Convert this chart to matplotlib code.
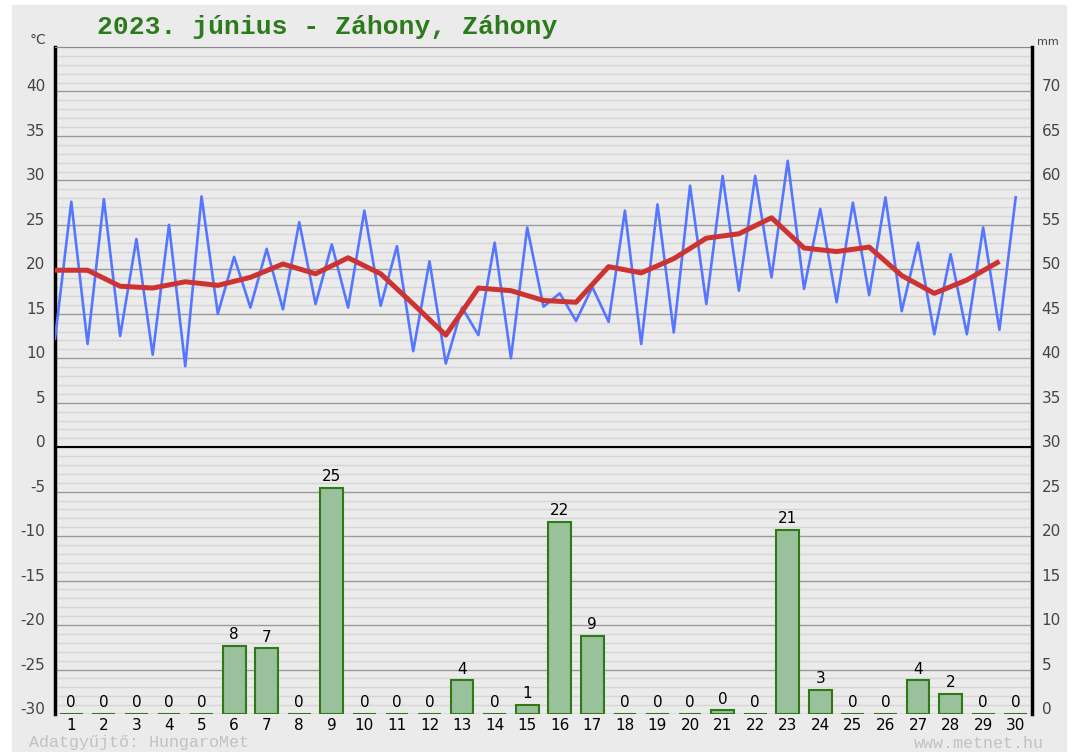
import matplotlib
matplotlib.use('Agg')
import matplotlib.pyplot as plt
from matplotlib.patches import Rectangle

plt.rcParams['axes.unicode_minus'] = False

days = list(range(1, 31))
# daily minimum / maximum / mean temperature (°C)
tmin = [12.2, 11.6, 12.5, 10.4, 9.1, 15.0, 15.7, 15.5, 16.1, 15.7,
        15.9, 10.8, 9.4, 12.6, 10.0, 15.8, 14.2, 14.1, 11.6, 12.9,
        16.1, 17.6, 19.1, 17.8, 16.3, 17.1, 15.3, 12.7, 12.7, 13.2]
tmax = [27.6, 27.9, 23.4, 25.0, 28.2, 21.4, 22.3, 25.3, 22.8, 26.6,
        22.6, 20.9, 15.7, 23.0, 24.7, 17.3, 18.0, 26.6, 27.3, 29.4,
        30.5, 30.5, 32.2, 26.8, 27.5, 28.1, 23.0, 21.7, 24.7, 28.1]
tavg = [19.9, 19.9, 18.1, 17.9, 18.6, 18.2, 19.1, 20.6, 19.5, 21.3,
        19.5, 16.1, 12.6, 17.9, 17.6, 16.5, 16.3, 20.3, 19.6, 21.2,
        23.5, 24.0, 25.8, 22.4, 22.0, 22.5, 19.3, 17.3, 18.8, 20.9]
# daily precipitation (mm)
precip = [0, 0, 0, 0, 0, 7.7, 7.4, 0, 25.4, 0,
          0, 0, 3.8, 0, 1.0, 21.6, 8.8, 0, 0, 0,
          0.4, 0, 20.7, 2.7, 0, 0, 3.8, 2.3, 0, 0]

title = '2023. június - Záhony, Záhony'
W, H = 1073, 752
bg = '#ebebeb'

fig = plt.figure(figsize=(W / 100, H / 100), dpi=100, facecolor='white')
fig.patches.append(Rectangle((12 / W, 0), (1066 - 12) / W, 1 - 5 / H,
                             transform=fig.transFigure, color=bg, zorder=-10))

ax = fig.add_axes([55 / W, 1 - 714 / H, 977 / W, 667 / H])
ax.set_facecolor(bg)
ax.set_xlim(0.5, 30.5)
ax.set_ylim(-30, 45)
ax.set_yticks(range(-30, 45, 5))
ax.set_yticks(range(-30, 46, 1), minor=True)
ax.yaxis.grid(True, which='minor', color='#d6d6d6', lw=1)
ax.yaxis.grid(True, which='major', color='#9a9a9a', lw=1)
ax.set_axisbelow(True)
ax.axhline(0, color='black', lw=1.5, zorder=1)
ax.set_xticks(days)
ax.tick_params(axis='y', which='both', length=0, labelsize=11, labelcolor='#444444', pad=7)
ax.tick_params(axis='x', length=0, labelsize=11, pad=3)
plt.setp(ax.get_yticklabels(), va='baseline')

# blue zig-zag: min at half day, max at the day
bx, by = [], []
for d, lo, hi in zip(days, tmin, tmax):
    bx += [d - 0.5, d]
    by += [lo, hi]
ax.plot(bx, by, color='#5577ff', lw=1.9, zorder=3)
ax.plot([d - 0.5 for d in days], tavg, color='#cc3333', lw=3.6, zorder=4,
        solid_capstyle='butt', solid_joinstyle='round')

ax.spines['left'].set_color('black')
ax.spines['left'].set_linewidth(2.5)
ax.spines['right'].set_visible(False)
ax.spines['bottom'].set_visible(False)
ax.spines['top'].set_color('#8a8a8a')

ax2 = ax.twinx()
ax2.set_ylim(0, 75)
ax2.set_yticks(range(0, 75, 5))
ax2.tick_params(axis='y', length=0, labelsize=11, labelcolor='#444444', pad=7)
plt.setp(ax2.get_yticklabels(), va='baseline')
for s in ['left', 'top', 'bottom']:
    ax2.spines[s].set_visible(False)
ax2.spines['right'].set_color('black')
ax2.spines['right'].set_linewidth(2.5)

ax2.bar(days, precip, width=0.7, color='#99c19b', edgecolor='#2f7a14', lw=1.5)
for d, v in zip(days, precip):
    ax2.text(d, v + 0.75, f'{v:.0f}', ha='center', va='baseline', fontsize=11, color='black')

fig.text(97 / W, 1 - 27 / H, title, ha='left', va='center', fontsize=19,
         family='Liberation Mono', weight='bold', color='#2b7a1b')
fig.text(38 / W, 1 - 40 / H, '°C', ha='center', va='center', fontsize=10, color='#444444')
fig.text(1048 / W, 1 - 42 / H, 'mm', ha='center', va='center', fontsize=8, color='#444444')
fig.text(29 / W, 1 - 743 / H, 'Adatgyűjtő: HungaroMet', ha='left', va='center',
         fontsize=12, family='Liberation Mono', color='#c2c2c2')
fig.text(1044 / W, 1 - 743 / H, 'www.metnet.hu', ha='right', va='center',
         fontsize=12, family='Liberation Mono', color='#c2c2c2')

fig.savefig('out.png', dpi=100, facecolor=fig.get_facecolor())
